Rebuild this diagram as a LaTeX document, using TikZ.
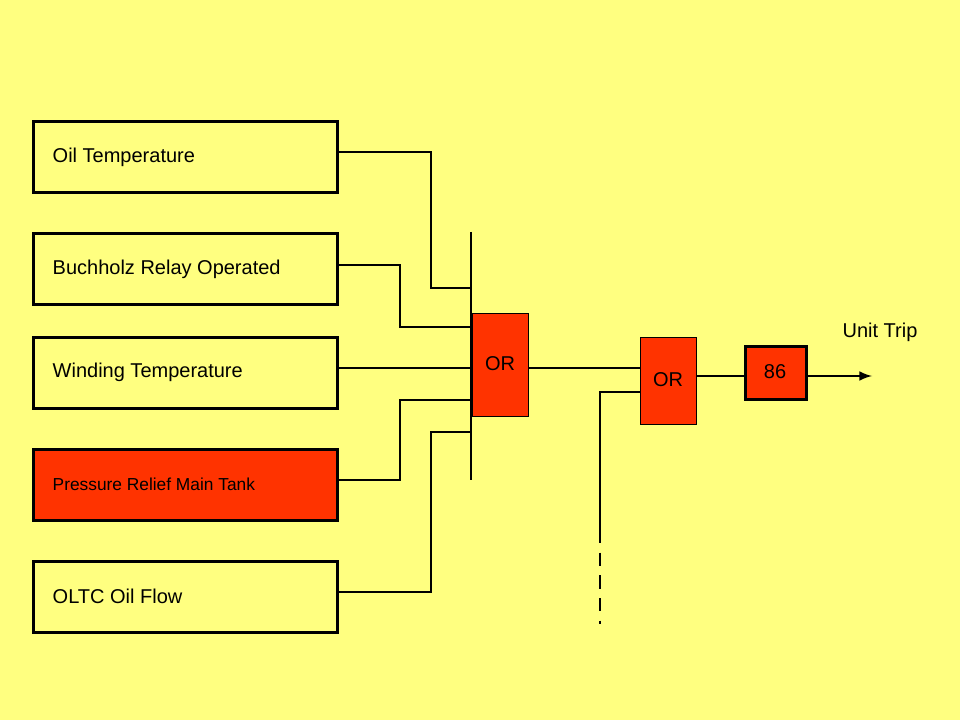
\documentclass[tikz,border=0pt]{standalone}
\usepackage{fontspec}
\setmainfont{Liberation Sans}
\begin{document}
\begin{tikzpicture}[x=0.75pt,y=-0.75pt,
  line/.style={line width=2.2pt,black},
  box/.style={draw,line width=2.2pt,minimum width=228pt,minimum height=53pt,anchor=north west,inner sep=0pt},
  lbl/.style={anchor=west,font=\fontsize{15}{18}\selectfont},
  gate/.style={draw,line width=0.8pt,fill=red1,anchor=north west,inner sep=0pt,font=\fontsize{15}{18}\selectfont}]
\definecolor{bg}{HTML}{FFFF80}
\definecolor{red1}{HTML}{FF3300}
\fill[bg] (0,0) rectangle (960,720);
\useasboundingbox (0,0) rectangle (960,720);
\node[box] (b1) at (32,120) {};
\node[box] (b2) at (32,232) {};
\node[box] (b3) at (32,336) {};
\node[box,fill=red1] (b4) at (32,448) {};
\node[box] (b5) at (32,560) {};
\node[lbl] (t1) at (48,157) {Oil Temperature};
\node[lbl] (t2) at (48,269) {Buchholz Relay Operated};
\node[lbl] (t3) at (48,372) {Winding Temperature};
\node[lbl,font=\fontsize{13}{16}\selectfont] (t4) at (48,484) {Pressure Relief Main Tank};
\node[lbl] (t5) at (48,596) {OLTC Oil Flow};
\coordinate (bt) at (471,232);
\coordinate (bb) at (471,480);
\draw[line] (bt) -- (bb);
\node[gate,minimum width=42pt,minimum height=77pt] (or1) at (472,313) {};
\node[font=\fontsize{15}{18}\selectfont] (or1t) at (500,364) {OR};
\node[gate,minimum width=42pt,minimum height=65pt] (or2) at (640,337) {};
\node[font=\fontsize{15}{18}\selectfont] (or2t) at (668,380) {OR};
\node[gate,line width=2.2pt,minimum width=46pt,minimum height=40pt] (g86) at (744,345) {};
\node[font=\fontsize{15}{18}\selectfont] (g86t) at (775,372) {86};
\node[font=\fontsize{15}{18}\selectfont] (ut) at (880,332) {Unit Trip};
\draw[line] (b1.east |- 0,152) -| (431,288) -- (471,288);
\draw[line] (b2.east |- 0,265) -| (400,327) -- (471,327);
\draw[line] (b3.east |- 0,368) -- (471,368);
\draw[line] (b4.east |- 0,480) -| (400,400) -- (471,400);
\draw[line] (b5.east |- 0,592) -| (431,432) -- (471,432);
\draw[line] (or1.east |- 0,368) -- (or2.west |- 0,368);
\coordinate (d1) at (600,530);
\coordinate (d2) at (600,624);
\draw[line] (d1) |- (or2.west |- 0,392);
\draw[line,dash pattern=on 10pt off 7pt] (d1) -- (d2);
\draw[line] (or2.east |- 0,376) -- (g86.west |- 0,376);
\coordinate (tip) at (872,376);
\draw[line,-latex] (g86.east |- 0,376) -- (tip);
\end{tikzpicture}
\end{document}
